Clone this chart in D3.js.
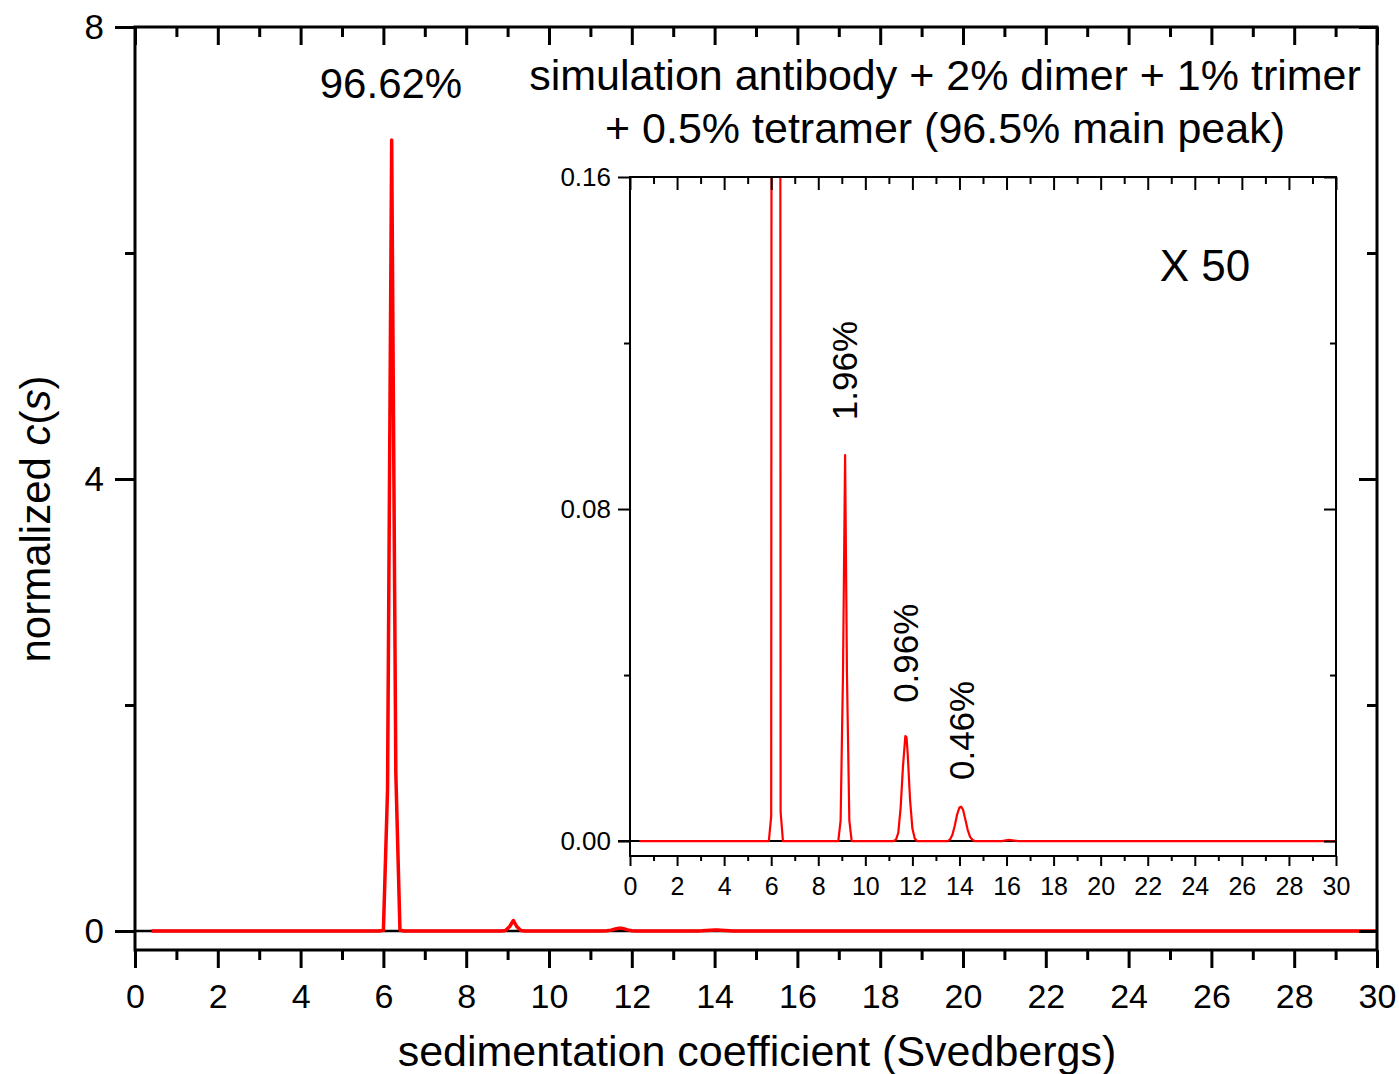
<!DOCTYPE html>
<html>
<head>
<meta charset="utf-8">
<script src="https://cdn.jsdelivr.net/npm/d3@7"></script>
<style>
  body { margin: 0; background: #fff; }
  text { font-family: "Liberation Sans", Arial, sans-serif; fill: #000; }
</style>
</head>
<body>
<div id="chart"></div>
<script>
// c(s) distribution (S, normalized c(s))
var sedCoeff = [0.4, 5.9, 6.0, 6.1, 6.2, 6.3, 6.4, 6.5,
  8.85, 8.95, 9.05, 9.14, 9.22, 9.32, 9.42,
  11.2, 11.3, 11.4, 11.5, 11.6, 11.7, 11.75, 11.8, 11.9, 12.0, 12.1, 12.2,
  13.5, 13.6, 13.7, 13.8, 13.9, 14.0, 14.07, 14.15, 14.25, 14.35, 14.45, 14.55, 14.65,
  15.8, 16.1, 16.5, 30];
var cs = [0, 0, 0.006, 1.25, 7.0, 1.4, 0.007, 0,
  0, 0.005, 0.04, 0.093, 0.04, 0.005, 0,
  0, 0.0003, 0.002, 0.008, 0.018, 0.0253, 0.025, 0.021, 0.010, 0.003, 0.0006, 0,
  0, 0.0004, 0.0015, 0.0037, 0.0064, 0.0081, 0.0083, 0.0076, 0.0052, 0.0027, 0.001, 0.0003, 0,
  0, 0.0003, 0, 0];

var mainXTicks = d3.range(0, 31, 2);
var mainXMinor = d3.range(1, 30, 2);
var mainYTicks = [0, 4, 8];
var mainYMinor = [2, 6];
var insetXTicks = d3.range(0, 31, 2);
var insetXMinor = d3.range(1, 30, 2);
var insetYTicks = [0, 0.08, 0.16];
var insetYMinor = [0.04, 0.12];

var peakLabels = [
  {s: 9.14, y0: 0.1014, text: "1.96%"},
  {s: 11.72, y0: 0.0333, text: "0.96%"},
  {s: 14.1, y0: 0.0147, text: "0.46%"}
];

var data = sedCoeff.map(function(s, i) { return {s: s, c: cs[i]}; });

var W = 1399, H = 1074;
var svg = d3.select("#chart").append("svg")
  .attr("width", W).attr("height", H);

// ---- main plot ----
var x = d3.scaleLinear().domain([0, 30]).range([135, 1377]);
var y = d3.scaleLinear().domain([-0.168, 8]).range([950, 27]);

function styleAxis(g, w) {
  g.select(".domain").remove();
  g.selectAll("line").attr("stroke", "#000").attr("stroke-width", w);
}

// zero line
svg.append("line")
  .attr("x1", x(0)).attr("x2", x(30))
  .attr("y1", y(0)).attr("y2", y(0))
  .attr("stroke", "#000").attr("stroke-width", 2.5);

svg.append("path")
  .datum(data)
  .attr("fill", "none")
  .attr("stroke", "#ff0000")
  .attr("stroke-width", 3.5)
  .attr("stroke-linejoin", "round")
  .attr("d", d3.line().x(function(d) { return x(d.s); }).y(function(d) { return y(d.c); }));

var gb = svg.append("g").attr("transform", "translate(0,950)")
  .call(d3.axisBottom(x).tickValues(mainXTicks).tickSize(18).tickPadding(16).tickSizeOuter(0));
gb.selectAll("text").attr("font-size", 34);
styleAxis(gb, 3);
var gbm = svg.append("g").attr("transform", "translate(0,950)")
  .call(d3.axisBottom(x).tickValues(mainXMinor).tickSize(10).tickFormat("").tickSizeOuter(0));
styleAxis(gbm, 3);

var gt = svg.append("g").attr("transform", "translate(0,27)")
  .call(d3.axisTop(x).tickValues(mainXTicks).tickSize(-18).tickFormat("").tickSizeOuter(0));
styleAxis(gt, 3);
var gtm = svg.append("g").attr("transform", "translate(0,27)")
  .call(d3.axisTop(x).tickValues(mainXMinor).tickSize(-10).tickFormat("").tickSizeOuter(0));
styleAxis(gtm, 3);

var gl = svg.append("g").attr("transform", "translate(135,0)")
  .call(d3.axisLeft(y).tickValues(mainYTicks).tickSize(20).tickPadding(11).tickSizeOuter(0));
gl.selectAll("text").attr("font-size", 35);
styleAxis(gl, 3);
var glm = svg.append("g").attr("transform", "translate(135,0)")
  .call(d3.axisLeft(y).tickValues(mainYMinor).tickSize(10).tickFormat("").tickSizeOuter(0));
styleAxis(glm, 3);

var gr = svg.append("g").attr("transform", "translate(1377,0)")
  .call(d3.axisRight(y).tickValues(mainYTicks).tickSize(-18).tickFormat("").tickSizeOuter(0));
styleAxis(gr, 3);
var grm = svg.append("g").attr("transform", "translate(1377,0)")
  .call(d3.axisRight(y).tickValues(mainYMinor).tickSize(-10).tickFormat("").tickSizeOuter(0));
styleAxis(grm, 3);

svg.append("rect")
  .attr("x", 135).attr("y", 27).attr("width", 1377 - 135).attr("height", 950 - 27)
  .attr("fill", "none").attr("stroke", "#000").attr("stroke-width", 3);

// axis titles
svg.append("text")
  .attr("x", 757).attr("y", 1066)
  .attr("text-anchor", "middle").attr("font-size", 43)
  .text("sedimentation coefficient (Svedbergs)");

var yl = svg.append("text")
  .attr("transform", "translate(50,519) rotate(-90)")
  .attr("text-anchor", "middle").attr("font-size", 42);
yl.append("tspan").text("normalized ");
yl.append("tspan").attr("font-style", "italic").text("c");
yl.append("tspan").text("(");
yl.append("tspan").attr("font-style", "italic").text("s");
yl.append("tspan").text(")");

svg.append("text")
  .attr("x", 391).attr("y", 98)
  .attr("text-anchor", "middle").attr("font-size", 42)
  .text("96.62%");

svg.append("text")
  .attr("x", 945).attr("y", 90)
  .attr("text-anchor", "middle").attr("font-size", 43)
  .text("simulation antibody + 2% dimer + 1% trimer");
svg.append("text")
  .attr("x", 945).attr("y", 143)
  .attr("text-anchor", "middle").attr("font-size", 43)
  .text("+ 0.5% tetramer (96.5% main peak)");

// ---- inset ----
var xi = d3.scaleLinear().domain([0, 30]).range([630, 1336]);
var yi = d3.scaleLinear().domain([-0.0036, 0.16]).range([856, 177]);

var inset = svg.append("g");
inset.append("rect")
  .attr("x", 630).attr("y", 177).attr("width", 1336 - 630).attr("height", 856 - 177)
  .attr("fill", "#fff");

svg.append("clipPath").attr("id", "insetClip")
  .append("rect")
  .attr("x", 630).attr("y", 177).attr("width", 1336 - 630).attr("height", 856 - 177);

inset.append("line")
  .attr("x1", 618).attr("x2", xi(30))
  .attr("y1", yi(0)).attr("y2", yi(0))
  .attr("stroke", "#000").attr("stroke-width", 2);

inset.append("path")
  .datum(data)
  .attr("clip-path", "url(#insetClip)")
  .attr("fill", "none")
  .attr("stroke", "#ff0000")
  .attr("stroke-width", 2.2)
  .attr("stroke-linejoin", "round")
  .attr("d", d3.line().x(function(d) { return xi(d.s); }).y(function(d) { return yi(d.c); }));

var ib = inset.append("g").attr("transform", "translate(0,856)")
  .call(d3.axisBottom(xi).tickValues(insetXTicks).tickSize(10).tickPadding(11).tickSizeOuter(0));
ib.selectAll("text").attr("font-size", 25);
styleAxis(ib, 2);
var ibm = inset.append("g").attr("transform", "translate(0,856)")
  .call(d3.axisBottom(xi).tickValues(insetXMinor).tickSize(5).tickFormat("").tickSizeOuter(0));
styleAxis(ibm, 2);

var it = inset.append("g").attr("transform", "translate(0,177)")
  .call(d3.axisTop(xi).tickValues(insetXTicks).tickSize(-13).tickFormat("").tickSizeOuter(0));
styleAxis(it, 2);
var itm = inset.append("g").attr("transform", "translate(0,177)")
  .call(d3.axisTop(xi).tickValues(insetXMinor).tickSize(-7).tickFormat("").tickSizeOuter(0));
styleAxis(itm, 2);

var il = inset.append("g").attr("transform", "translate(630,0)")
  .call(d3.axisLeft(yi).tickValues(insetYTicks).tickSize(12).tickPadding(7).tickSizeOuter(0)
    .tickFormat(d3.format(".2f")));
il.selectAll("text").attr("font-size", 26);
styleAxis(il, 2);
var ilm = inset.append("g").attr("transform", "translate(630,0)")
  .call(d3.axisLeft(yi).tickValues(insetYMinor).tickSize(6).tickFormat("").tickSizeOuter(0));
styleAxis(ilm, 2);

var ir = inset.append("g").attr("transform", "translate(1336,0)")
  .call(d3.axisRight(yi).tickValues(insetYTicks).tickSize(-12).tickFormat("").tickSizeOuter(0));
styleAxis(ir, 2);
var irm = inset.append("g").attr("transform", "translate(1336,0)")
  .call(d3.axisRight(yi).tickValues(insetYMinor).tickSize(-6).tickFormat("").tickSizeOuter(0));
styleAxis(irm, 2);

inset.append("rect")
  .attr("x", 630).attr("y", 177).attr("width", 1336 - 630).attr("height", 856 - 177)
  .attr("fill", "none").attr("stroke", "#000").attr("stroke-width", 2);

inset.append("text")
  .attr("x", 1205).attr("y", 281)
  .attr("text-anchor", "middle").attr("font-size", 44)
  .text("X 50");

inset.selectAll(".peak")
  .data(peakLabels)
  .enter().append("text")
    .attr("class", "peak")
    .attr("transform", function(d) {
      return "translate(" + (xi(d.s) + 12) + "," + yi(d.y0) + ") rotate(-90)";
    })
    .attr("font-size", 35)
    .text(function(d) { return d.text; });
</script>
</body>
</html>
